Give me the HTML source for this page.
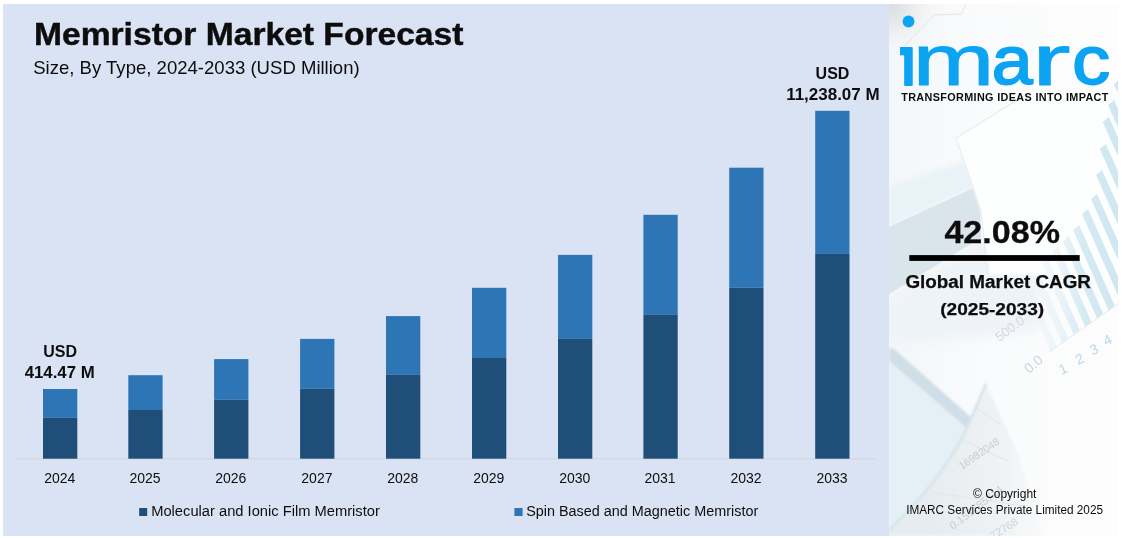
<!DOCTYPE html>
<html lang="en">
<head>
<meta charset="utf-8">
<title>Memristor Market Forecast</title>
<style>
  html, body { margin:0; padding:0; background:#ffffff; }
  body { width:1122px; height:538px; position:relative; overflow:hidden;
         font-family:"Liberation Sans", sans-serif; color:#0d0d0d; }
  .chart-panel { position:absolute; left:3px; top:4px; width:886px; height:532px; background:#dae3f3; }
  .side-panel { position:absolute; left:889px; top:4px; width:229px; height:532px; background:#f9fafb; overflow:hidden; }
  svg { position:absolute; left:0; top:0; display:block; }
  svg text { font-family:"Liberation Sans", sans-serif; fill:#0d0d0d; }
  .b { font-weight:bold; }
</style>
</head>
<body>
<div class="chart-panel"></div>
<div class="side-panel">

</div>

<svg width="1122" height="538" viewBox="0 0 1122 538">
  <!-- side panel decorative background -->
  <defs>
  <clipPath id="sideclip"><rect x="889" y="4" width="229" height="532"/></clipPath>
  <filter id="b1" x="-20%" y="-20%" width="140%" height="140%"><feGaussianBlur stdDeviation="1.2"/></filter>
  <filter id="b05" x="-20%" y="-20%" width="140%" height="140%"><feGaussianBlur stdDeviation="0.5"/></filter>
  <filter id="b3" x="-20%" y="-20%" width="140%" height="140%"><feGaussianBlur stdDeviation="3"/></filter>
  <filter id="b8" x="-30%" y="-30%" width="160%" height="160%"><feGaussianBlur stdDeviation="8"/></filter>
  <radialGradient id="cornerg" cx="889" cy="4" r="60" gradientUnits="userSpaceOnUse"><stop offset="0" stop-color="#d9dddf"/><stop offset="0.45" stop-color="#eceeef"/><stop offset="1" stop-color="#f9fafb" stop-opacity="0"/></radialGradient>
  <linearGradient id="stripeg" x1="1030" y1="0" x2="1118" y2="0" gradientUnits="userSpaceOnUse"><stop offset="0" stop-color="#d9ecf4" stop-opacity="0.08"/><stop offset="0.35" stop-color="#d6eaf3" stop-opacity="0.45"/><stop offset="0.6" stop-color="#d3e9f2" stop-opacity="0.95"/><stop offset="1" stop-color="#cfe7f1" stop-opacity="1"/></linearGradient>
  <linearGradient id="paperg" x1="930" y1="0" x2="1045" y2="0" gradientUnits="userSpaceOnUse"><stop offset="0" stop-color="#e6ecf0"/><stop offset="0.7" stop-color="#f1f4f6"/><stop offset="1" stop-color="#f6f8f9" stop-opacity="0.6"/></linearGradient>
  <linearGradient id="baseg" x1="889" y1="0" x2="1118" y2="0" gradientUnits="userSpaceOnUse"><stop offset="0" stop-color="#f3f7fa"/><stop offset="0.45" stop-color="#fafbfc"/><stop offset="1" stop-color="#fdfdfd"/></linearGradient>
  </defs>
  <g clip-path="url(#sideclip)">
  <rect x="889" y="4" width="229" height="532" fill="url(#baseg)"/>
  <rect x="889" y="4" width="80" height="80" fill="url(#cornerg)"/>
  <polyline points="896.7,53.5 934.6,15 961.4,14 965.8,4" fill="none" stroke="#e3e5e6" stroke-width="1"/>
  <polygon points="889,300 986,238 1040,250 1040,330 889,345" fill="#eef3f7" filter="url(#b8)"/>
  <polygon points="889,186 889,227 980,185 974,158" fill="#e9f2f7" filter="url(#b3)"/>
  <polygon points="889,227 980,185 981,238 889,294" fill="#dae4eb" filter="url(#b05)"/>
  <polygon points="956,138 1030,92 1122,92 1122,275 990,275 981,212" fill="#fdfefe" filter="url(#b1)"/>
  <polyline points="1030,92 956,138 981,212 988,275" fill="none" stroke="#e9edf0" stroke-width="1.2" filter="url(#b05)"/>
  <polygon points="1022.6,288.0 1028.6,283.0 1056.5,345.9 1050.5,350.9" fill="url(#stripeg)" filter="url(#b05)"/>
  <polygon points="1031.8,275.0 1037.8,270.0 1068.0,338.0 1062.0,343.0" fill="url(#stripeg)" filter="url(#b05)"/>
  <polygon points="1041.3,262.0 1047.3,257.0 1079.6,329.8 1073.6,334.8" fill="url(#stripeg)" filter="url(#b05)"/>
  <polygon points="1052.2,252.0 1058.2,247.0 1091.3,321.7 1085.3,326.7" fill="url(#stripeg)" filter="url(#b05)"/>
  <polygon points="1062.7,241.0 1068.7,236.0 1103.1,313.5 1097.1,318.5" fill="url(#stripeg)" filter="url(#b05)"/>
  <polygon points="1073.0,230.0 1079.0,225.0 1114.7,305.4 1108.7,310.4" fill="url(#stripeg)" filter="url(#b05)"/>
  <polygon points="1082.0,214.0 1088.0,209.0 1127.0,296.9 1121.0,301.9" fill="url(#stripeg)" filter="url(#b05)"/>
  <polygon points="1091.0,199.0 1097.0,194.0 1139.0,288.5 1133.0,293.5" fill="url(#stripeg)" filter="url(#b05)"/>
  <polygon points="1096.0,175.0 1102.0,170.0 1150.9,280.2 1144.9,285.2" fill="url(#stripeg)" filter="url(#b05)"/>
  <polygon points="1099.8,149.0 1105.8,144.0 1162.7,272.0 1156.7,277.0" fill="url(#stripeg)" filter="url(#b05)"/>
  <polygon points="1102.8,122.0 1108.8,117.0 1174.1,264.1 1168.1,269.1" fill="url(#stripeg)" filter="url(#b05)"/>
  <polygon points="1108.0,105.0 1114.0,100.0 1183.8,257.3 1177.8,262.3" fill="url(#stripeg)" filter="url(#b05)"/>
  <polygon points="1114.0,84.0 1120.0,79.0 1195.5,249.2 1189.5,254.2" fill="url(#stripeg)" filter="url(#b05)"/>
  <line x1="1049" y1="352" x2="1118" y2="304" stroke="#dfe9ee" stroke-width="1"/>
  <path d="M889,360 L968,426 C958,450 930,492 889,530 Z" fill="#e5f0f6" filter="url(#b1)"/>
  <polygon points="889,349 893,348 973,419 967,428 889,361" fill="#d0dee7" filter="url(#b1)"/>
  <path d="M986,384 L1018,453 L1044,536 L889,536 L889,530 C930,492 958,450 968.6,424 Z" fill="url(#paperg)" filter="url(#b1)"/>
  <path d="M986,384 L968.6,424 C958,450 930,492 889,530" fill="none" stroke="#d3e3ea" stroke-width="2.5" filter="url(#b1)"/>
  <path d="M976,408 L1000,424 M962,440 L1010,462 M930,492 L1024,506" fill="none" stroke="#e1e6e9" stroke-width="1"/>
  <g class="faint">
  <text font-size="10.5" transform="translate(962,470) rotate(-35)" style="fill:#c6cdd3">16982048</text>
  <text font-size="11" transform="translate(953,530) rotate(-37.5)" style="fill:#c6cdd3">0.151785714</text>
  <text font-size="11" transform="translate(993,540) rotate(-32)" style="fill:#cdd3d8">72768</text>
  <text font-size="13" transform="translate(999.5,342) rotate(-37)" style="fill:#d0d8de">500.0</text>
  <text font-size="14" transform="translate(1029,374) rotate(-40)" style="fill:#c9d6de">0.0</text>
  <text font-size="14" transform="translate(1061.5,375) rotate(-25)" style="fill:#bcd9e5">1</text>
  <text font-size="14" transform="translate(1078,365) rotate(-25)" style="fill:#bcd9e5">2</text>
  <text font-size="14" transform="translate(1092.5,355.5) rotate(-25)" style="fill:#bcd9e5">3</text>
  <text font-size="14" transform="translate(1106,346) rotate(-25)" style="fill:#bcd9e5">4</text>
  </g>
  </g>

  <!-- headings -->
  <text class="b" x="34.0" y="45.4" font-size="31" textLength="429.4" lengthAdjust="spacingAndGlyphs" stroke="#0d0d0d" stroke-width="0.45">Memristor Market Forecast</text>
  <text x="33.2" y="73.8" font-size="19" textLength="326.5" lengthAdjust="spacingAndGlyphs">Size, By Type, 2024-2033 (USD Million)</text>

  <!-- axis -->
  <rect x="16" y="458.4" width="860" height="1" fill="#d2d6da"/>

  <!-- bars -->
  <g>
    <rect x="43.0" y="389.0" width="34.3" height="28.8" fill="#2e75b6"/>
  <rect x="43.0" y="417.8" width="34.3" height="40.9" fill="#1f4e79"/>
  <rect x="128.3" y="375.2" width="34.3" height="34.8" fill="#2e75b6"/>
  <rect x="128.3" y="410.0" width="34.3" height="48.7" fill="#1f4e79"/>
  <rect x="214.1" y="359.1" width="34.3" height="40.6" fill="#2e75b6"/>
  <rect x="214.1" y="399.7" width="34.3" height="59.0" fill="#1f4e79"/>
  <rect x="300.1" y="338.9" width="34.3" height="49.9" fill="#2e75b6"/>
  <rect x="300.1" y="388.8" width="34.3" height="69.9" fill="#1f4e79"/>
  <rect x="386.0" y="316.1" width="34.3" height="58.7" fill="#2e75b6"/>
  <rect x="386.0" y="374.8" width="34.3" height="83.9" fill="#1f4e79"/>
  <rect x="472.0" y="287.8" width="34.3" height="70.2" fill="#2e75b6"/>
  <rect x="472.0" y="358.0" width="34.3" height="100.7" fill="#1f4e79"/>
  <rect x="558.0" y="254.9" width="34.3" height="84.0" fill="#2e75b6"/>
  <rect x="558.0" y="338.9" width="34.3" height="119.8" fill="#1f4e79"/>
  <rect x="643.4" y="214.8" width="34.3" height="100.1" fill="#2e75b6"/>
  <rect x="643.4" y="314.9" width="34.3" height="143.8" fill="#1f4e79"/>
  <rect x="729.2" y="167.7" width="34.3" height="120.0" fill="#2e75b6"/>
  <rect x="729.2" y="287.7" width="34.3" height="171.0" fill="#1f4e79"/>
  <rect x="815.2" y="110.8" width="34.3" height="143.1" fill="#2e75b6"/>
  <rect x="815.2" y="253.9" width="34.3" height="204.8" fill="#1f4e79"/>
  </g>

  <!-- value labels -->
  <g class="b" font-size="16" text-anchor="middle">
    <text x="60.1" y="356.5">USD</text>
    <text x="59.7" y="377.8" textLength="70" lengthAdjust="spacingAndGlyphs">414.47 M</text>
    <text x="832.5" y="78.5">USD</text>
    <text x="832.9" y="99.7" textLength="93.4" lengthAdjust="spacingAndGlyphs">11,238.07 M</text>
  </g>

  <!-- x axis labels -->
  <g font-size="14">
    <text x="59.8" y="483.1" text-anchor="middle">2024</text>
  <text x="145.1" y="483.1" text-anchor="middle">2025</text>
  <text x="230.8" y="483.1" text-anchor="middle">2026</text>
  <text x="316.9" y="483.1" text-anchor="middle">2027</text>
  <text x="402.8" y="483.1" text-anchor="middle">2028</text>
  <text x="488.8" y="483.1" text-anchor="middle">2029</text>
  <text x="574.8" y="483.1" text-anchor="middle">2030</text>
  <text x="660.1" y="483.1" text-anchor="middle">2031</text>
  <text x="746.0" y="483.1" text-anchor="middle">2032</text>
  <text x="832.0" y="483.1" text-anchor="middle">2033</text>
  </g>

  <!-- legend -->
  <rect x="139.2" y="508" width="8" height="8" fill="#1f4e79"/>
  <text x="151.2" y="516.4" font-size="14" textLength="228.6" lengthAdjust="spacingAndGlyphs">Molecular and Ionic Film Memristor</text>
  <rect x="514.4" y="508" width="8.2" height="8" fill="#2e75b6"/>
  <text x="526.2" y="516.4" font-size="14" textLength="232" lengthAdjust="spacingAndGlyphs">Spin Based and Magnetic Memristor</text>

  <!-- logo -->
  <g>
    <defs><clipPath id="idot"><rect x="895" y="44" width="30" height="50"/></clipPath></defs>
    <circle cx="908.5" cy="21.5" r="5.9" fill="#0ca3f3"/>
    <rect x="900" y="47" width="6" height="8.3" fill="#0ca3f3"/>
    <g clip-path="url(#idot)"><text transform="translate(900.13 84.64) scale(1.013 0.968)" font-size="73" font-weight="normal" stroke="#0ca3f3" stroke-width="2.0" stroke-linejoin="round" style="fill:#0ca3f3">i</text></g><text transform="translate(912.83 85.34) scale(1.341 0.981)" font-size="73" font-weight="normal" stroke="#0ca3f3" stroke-width="1.0" stroke-linejoin="round" style="fill:#0ca3f3">m</text><text transform="translate(991.79 84.09) scale(1.007 0.938)" font-size="73" font-weight="normal" stroke="#0ca3f3" stroke-width="2.0" stroke-linejoin="round" style="fill:#0ca3f3">a</text><text transform="translate(1031.85 85.30) scale(1.600 0.985)" font-size="73" font-weight="normal" stroke="#0ca3f3" stroke-width="0.8" stroke-linejoin="round" style="fill:#0ca3f3">r</text><text transform="translate(1072.13 84.09) scale(1.036 0.938)" font-size="73" font-weight="normal" stroke="#0ca3f3" stroke-width="2.0" stroke-linejoin="round" style="fill:#0ca3f3">c</text>
    <text class="b" x="901.2" y="100.7" font-size="10.8" textLength="207.2" lengthAdjust="spacing">TRANSFORMING IDEAS INTO IMPACT</text>
  </g>

  <!-- CAGR -->
  <text class="b" x="944.4" y="243.2" font-size="31.5" textLength="115.6" stroke="#0d0d0d" stroke-width="0.3" lengthAdjust="spacingAndGlyphs">42.08%</text>
  <rect x="909.3" y="255.1" width="170.4" height="5.8" fill="#000"/>
  <text class="b" x="905.4" y="287.6" font-size="17.6" textLength="185.6" stroke="#0d0d0d" stroke-width="0.25" lengthAdjust="spacingAndGlyphs">Global Market CAGR</text>
  <text class="b" x="940.2" y="315" font-size="17.4" textLength="104" stroke="#0d0d0d" stroke-width="0.25" lengthAdjust="spacingAndGlyphs">(2025-2033)</text>

  <!-- copyright -->
  <text x="973" y="497.7" font-size="12" textLength="63.4" lengthAdjust="spacingAndGlyphs">© Copyright</text>
  <text x="906.2" y="513.8" font-size="12" textLength="196.8" lengthAdjust="spacingAndGlyphs">IMARC Services Private Limited 2025</text>
</svg>
</body>
</html>
